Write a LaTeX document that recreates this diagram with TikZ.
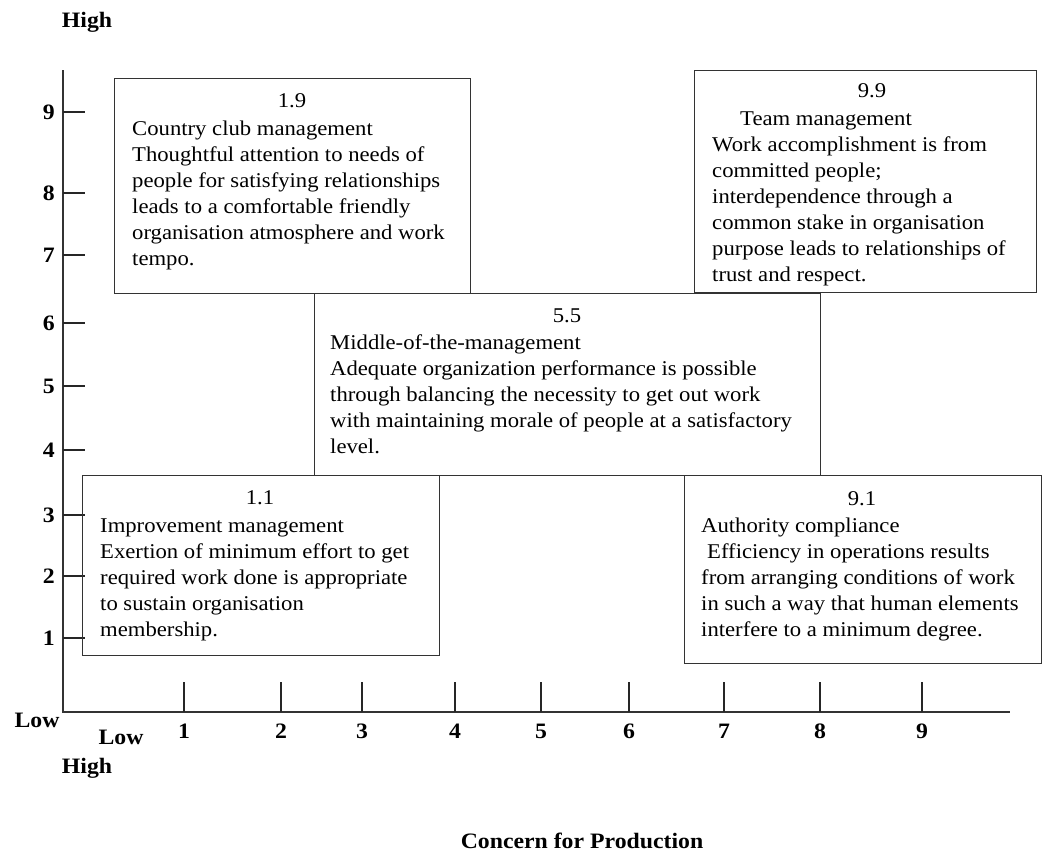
\documentclass[tikz,border=0pt]{standalone}
\usepackage{fontspec}
\setmainfont{Liberation Serif}[FakeStretch=1.08]
\begin{document}
\begin{tikzpicture}[x=1pt,y=-1pt,
  box/.style={draw=black!80,line width=1.4pt,inner sep=0pt,anchor=north west},
  body/.style={anchor=north west,align=left,inner sep=0pt,font=\fontsize{21}{26}\selectfont},
  head/.style={anchor=base,inner sep=0pt,font=\fontsize{21}{26}\selectfont},
  axisline/.style={line width=2.4pt,draw=black!80},
  ytick/.style={line width=1.3pt,draw=black!85},
  xtick/.style={line width=2pt,draw=black!85},
  lab/.style={font=\fontsize{22}{26}\selectfont\bfseries,inner sep=0pt}]
\useasboundingbox (0,0) rectangle (1048,854);

% axes
\coordinate (ytop) at (63,70);
\coordinate (orig) at (63,712);
\coordinate (xend) at (1010,712);
\draw[axisline] (ytop) -- (orig) -- (xend);

% y ticks
\foreach \v/\yy in {9/112,8/193,7/255,6/323,5/386,4/450,3/515,2/576,1/638}{
  \coordinate (yt\v) at (63,\yy);
  \coordinate (ye\v) at (85,\yy);
  \draw[ytick] (yt\v) -- (ye\v);
  \node[lab,anchor=east] (yl\v) at (55,\yy) {\v};
}
% x ticks
\foreach \v/\xx in {1/184,2/281,3/362,4/455,5/541,6/629,7/724,8/820,9/922}{
  \coordinate (xt\v) at (\xx,712);
  \coordinate (xe\v) at (\xx,682);
  \draw[xtick] (xt\v) -- (xe\v);
  \node[lab] (xl\v) at (\xx,731) {\v};
}

% axis labels
\node[lab] (hightop) at (87,22) {High};
\node[lab] (lowy) at (37,720) {Low};
\node[lab] (lowx) at (121,737) {Low};
\node[lab] (highx) at (87,768) {High};
\node[lab] (prod) at (582,841) {Concern for Production};

% boxes
\node[box,minimum width=356pt,minimum height=215pt] (b19) at (114,78) {};
\node[box,minimum width=342pt,minimum height=222pt] (b99) at (694,70) {};
\node[box,minimum width=506pt,minimum height=182pt] (b55) at (314,293) {};
\node[box,minimum width=357pt,minimum height=180pt] (b11) at (82,475) {};
\node[box,minimum width=357pt,minimum height=188pt] (b91) at (684,475) {};

% box texts
\node[head] (h19) at (292,107) {1.9};
\node[body] (t19) at (132,120) {\rule{0pt}{15pt}Country club management\\
Thoughtful attention to needs of\\
people for satisfying relationships\\
leads to a comfortable friendly\\
organisation atmosphere and work\\
tempo.};

\node[head] (h99) at (872,97) {9.9};
\node[body] (t99) at (712,110) {\rule{0pt}{15pt}\hspace{28pt}Team management\\
Work accomplishment is from\\
committed people;\\
interdependence through a\\
common stake in organisation\\
purpose leads to relationships of\\
trust and respect.};

\node[head] (h55) at (567,322) {5.5};
\node[body] (t55) at (330,334) {\rule{0pt}{15pt}Middle-of-the-management\\
Adequate organization performance is possible\\
through balancing the necessity to get out work\\
with maintaining morale of people at a satisfactory\\
level.};

\node[head] (h11) at (260,504) {1.1};
\node[body] (t11) at (100,517) {\rule{0pt}{15pt}Improvement management\\
Exertion of minimum effort to get\\
required work done is appropriate\\
to sustain organisation\\
membership.};

\node[head] (h91) at (862,505) {9.1};
\node[body] (t91) at (701,517) {\rule{0pt}{15pt}Authority compliance\\
\hspace{6pt}Efficiency in operations results\\
from arranging conditions of work\\
in such a way that human elements\\
interfere to a minimum degree.};
\end{tikzpicture}
\end{document}
